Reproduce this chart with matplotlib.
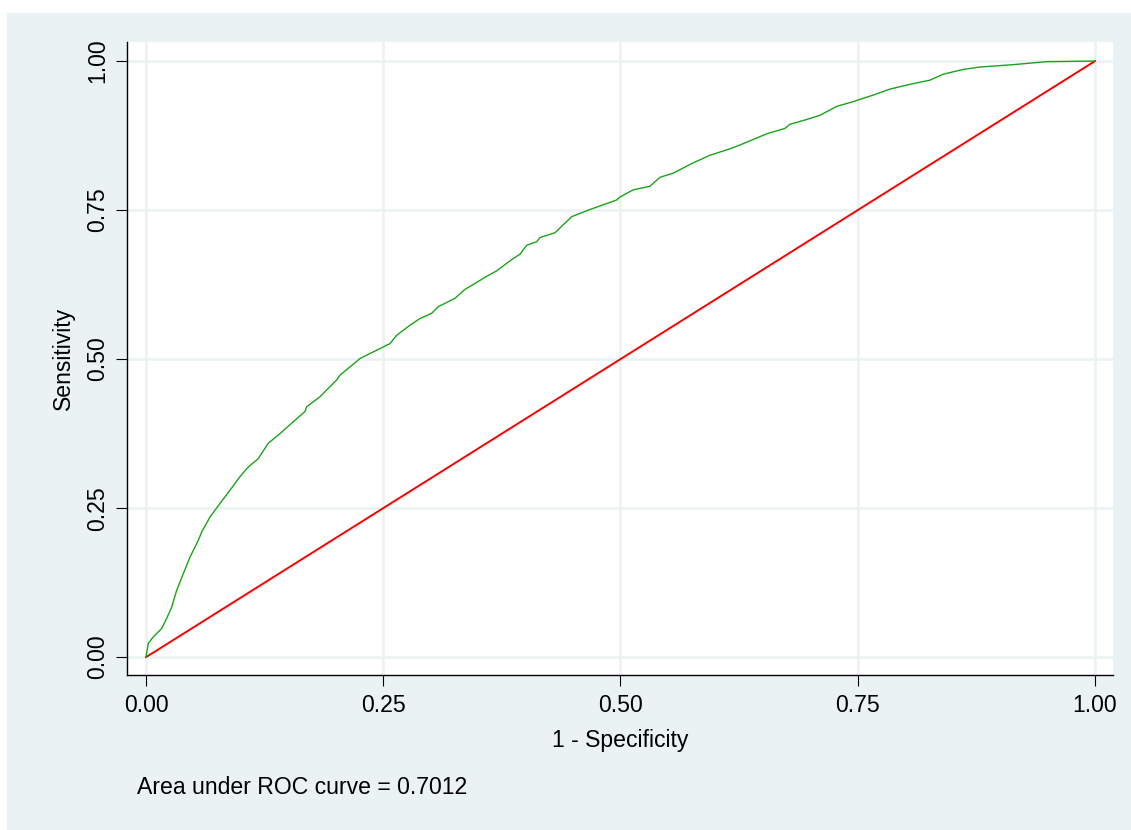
import matplotlib
matplotlib.use("Agg")
import matplotlib.pyplot as plt
from matplotlib.patches import Rectangle

plt.rcParams["font.family"] = ["Liberation Sans", "DejaVu Sans"]

# empirical ROC curve (1 - specificity, sensitivity)
fpr = [0.0, 0.0024, 0.0077, 0.0165, 0.0218, 0.0271, 0.0323, 0.0393, 0.0464,
       0.0551, 0.0587, 0.0674, 0.0780, 0.0885, 0.0991, 0.1078, 0.1183, 0.1289,
       0.1412, 0.1552, 0.1675, 0.1693, 0.1834, 0.2009, 0.2044, 0.2255, 0.2431,
       0.2571, 0.2642, 0.2782, 0.2887, 0.3011, 0.3080, 0.3256, 0.3361, 0.3467,
       0.3590, 0.3695, 0.3854, 0.3941, 0.4012, 0.4117, 0.4152, 0.4310, 0.4486,
       0.4679, 0.4855, 0.4960, 0.4995, 0.5135, 0.5311, 0.5416, 0.5556, 0.5750,
       0.5943, 0.6119, 0.6224, 0.6347, 0.6541, 0.6733, 0.6786, 0.6962, 0.7102,
       0.7278, 0.7453, 0.7664, 0.7840, 0.8051, 0.8261, 0.8401, 0.8612, 0.8788,
       0.9139, 0.9491, 1.0]
tpr = [0.0, 0.023, 0.034, 0.048, 0.065, 0.084, 0.112, 0.140, 0.168,
       0.196, 0.210, 0.235, 0.258, 0.280, 0.303, 0.319, 0.333, 0.359,
       0.375, 0.395, 0.412, 0.420, 0.437, 0.465, 0.473, 0.501, 0.515,
       0.526, 0.540, 0.557, 0.568, 0.577, 0.588, 0.602, 0.617, 0.627,
       0.639, 0.648, 0.667, 0.676, 0.691, 0.697, 0.704, 0.712, 0.739,
       0.751, 0.761, 0.767, 0.772, 0.784, 0.790, 0.805, 0.812, 0.828,
       0.842, 0.851, 0.857, 0.865, 0.878, 0.887, 0.894, 0.902, 0.909,
       0.924, 0.932, 0.943, 0.953, 0.961, 0.968, 0.978, 0.986, 0.990,
       0.994, 0.999, 1.0]
ref_line = [0.0, 1.0]
ticks = [0.0, 0.25, 0.5, 0.75, 1.0]
tick_labels = ["0.00", "0.25", "0.50", "0.75", "1.00"]
auc = 0.7012

bg = "#eaf2f3"
fs = 16.6

fig = plt.figure(figsize=(11.31, 8.30), dpi=100)
fig.patch.set_facecolor("white")
fig.patches.append(Rectangle((7 / 1131, 0), 1, 1 - 13 / 830, transform=fig.transFigure,
                             facecolor=bg, edgecolor="none", zorder=-1))

ax = fig.add_axes([0.1123, 0.1867, 0.8718, 0.7627])
ax.set_facecolor("white")

ax.plot(fpr, tpr, color="#1aa31a", lw=1.0, zorder=3)
ax.plot(ref_line, ref_line, color="#ff0000", lw=1.4, zorder=2)

ax.set_xlim(-0.02, 1.019)
ax.set_ylim(-0.030, 1.032)
ax.set_xticks(ticks)
ax.set_xticklabels(tick_labels)
ax.set_yticks(ticks)
ax.set_yticklabels(tick_labels, rotation=90, va="center")
ax.grid(True, color=bg, lw=1.8)
ax.set_axisbelow(True)

for side in ["top", "right"]:
    ax.spines[side].set_visible(False)
for side in ["left", "bottom"]:
    ax.spines[side].set_linewidth(1.0)
ax.tick_params(axis="both", direction="out", length=8, width=0.8, labelsize=fs)
ax.tick_params(axis="x", pad=6)
ax.tick_params(axis="y", pad=5)

ax.set_xlabel("1 - Specificity", fontsize=fs, labelpad=8)
ax.set_ylabel("Sensitivity", fontsize=fs, labelpad=8)

fig.text(137 / 1131, 1 - 787 / 830, f"Area under ROC curve = {auc:.4f}",
         fontsize=fs, ha="left", va="center")

fig.savefig("out.png", dpi=100)
